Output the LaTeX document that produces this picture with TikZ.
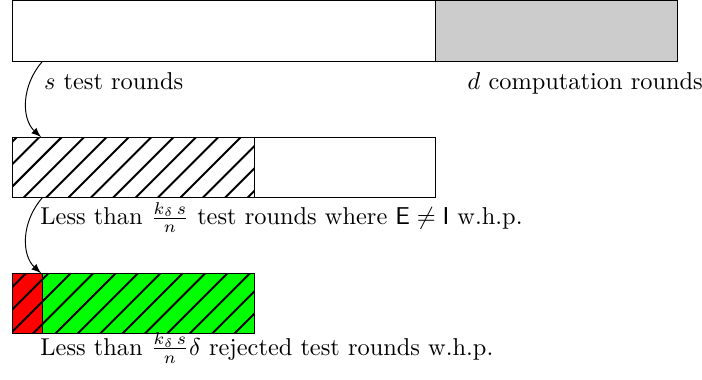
\documentclass[tikz,border=0pt]{standalone}
\usepackage{amsmath, amssymb}
\usepackage{tikz}
\usetikzlibrary{arrows,positioning,calc}
\definecolor{ComputeGray}{RGB}{204, 204, 204}
\definecolor{RejectRed}{RGB}{255, 0, 0}
\definecolor{AcceptGreen}{RGB}{0, 255, 0}

\begin{document}
\begin{tikzpicture}[x=0.872cm, y=0.872cm,
    barline/.style={draw=black, line width=0.4pt},
    hatchline/.style={line width=0.8pt},
    barlabel/.style={anchor=base west, inner sep=0pt},
    curvearrow/.style={-latex, line width=0.4pt}]
  \useasboundingbox (-0.2, -6.25) rectangle (11.4, 0.0165);

  % All rounds
  \fill[ComputeGray] (7, 0) rectangle (11, -1);
  \draw[barline] (0, 0) rectangle (11, -1);
  \draw[barline] (7, 0) -- (7, -1);
  \node[barlabel] (testlabel) at (0.52, -1.47) {$s$ test rounds};
  \node[barlabel] (complabel) at (7.52, -1.47) {$d$ computation rounds};

  % Test rounds
  \begin{scope}
    \clip (0, -2.25) rectangle (4, -3.25);
    \foreach \k in {0,...,14} {
      \pgfmathsetmacro{\xtop}{0.08 + 0.37*\k}
      \draw[hatchline] (\xtop, -2.25) -- (\xtop - 1, -3.25);
    }
  \end{scope}
  \draw[barline] (0, -2.25) rectangle (7, -3.25);
  \draw[barline] (4, -2.25) -- (4, -3.25);
  \node[barlabel] (difflabel) at (0.46, -3.69)
    {Less than $\frac{k_\delta\, s}{n}$ test rounds where $\mathsf{E} \neq \mathsf{I}$ w.h.p.};

  % Rejected rounds
  \fill[RejectRed] (0, -4.5) rectangle (0.5, -5.5);
  \fill[AcceptGreen] (0.5, -4.5) rectangle (4, -5.5);
  \begin{scope}
    \clip (0, -4.5) rectangle (4, -5.5);
    \foreach \k in {0,...,14} {
      \pgfmathsetmacro{\xtop}{0.23 + 0.37*\k}
      \draw[hatchline] (\xtop, -4.5) -- (\xtop - 1, -5.5);
    }
  \end{scope}
  \draw[barline] (0, -4.5) rectangle (4, -5.5);
  \draw[barline] (0.5, -4.5) -- (0.5, -5.5);
  \node[barlabel] (rejlabel) at (0.46, -5.85)
    {Less than $\frac{k_\delta\, s}{n}\delta$ rejected test rounds w.h.p.};

  % Arrows
  \coordinate (allout) at (0.5, -1);
  \coordinate (testin) at (0.48, -2.25);
  \coordinate (testout) at (0.5, -3.25);
  \coordinate (rejin) at (0.48, -4.5);
  \draw[curvearrow] (allout) .. controls (0.15, -1.4) and (0.15, -1.95) .. (testin);
  \draw[curvearrow] (testout) .. controls (0.15, -3.65) and (0.15, -4.2) .. (rejin);
\end{tikzpicture}
\end{document}
